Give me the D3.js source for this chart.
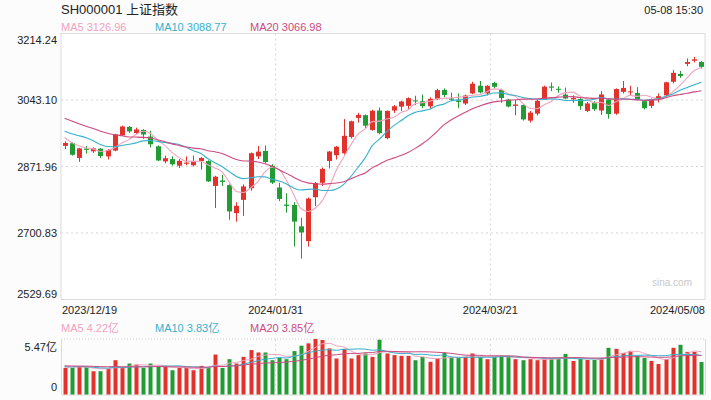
<!DOCTYPE html>
<html><head><meta charset="utf-8">
<script src="https://cdn.jsdelivr.net/npm/d3@7"></script>
<style>
body{margin:0;background:#fff}
svg{display:block}
text{font-family:"Liberation Sans",Arial,"Noto Sans CJK SC",sans-serif}
</style></head>
<body><svg id="c" width="711" height="400"></svg>
<script>
const dates = ["2023-12-19","2023-12-20","2023-12-21","2023-12-22","2023-12-25","2023-12-26","2023-12-27","2023-12-28","2023-12-29",
"2024-01-02","2024-01-03","2024-01-04","2024-01-05","2024-01-08","2024-01-09","2024-01-10","2024-01-11","2024-01-12","2024-01-15","2024-01-16","2024-01-17","2024-01-18","2024-01-19","2024-01-22","2024-01-23","2024-01-24","2024-01-25","2024-01-26","2024-01-29","2024-01-30","2024-01-31",
"2024-02-01","2024-02-02","2024-02-05","2024-02-06","2024-02-07","2024-02-08","2024-02-19","2024-02-20","2024-02-21","2024-02-22","2024-02-23","2024-02-26","2024-02-27","2024-02-28","2024-02-29",
"2024-03-01","2024-03-04","2024-03-05","2024-03-06","2024-03-07","2024-03-08","2024-03-11","2024-03-12","2024-03-13","2024-03-14","2024-03-15","2024-03-18","2024-03-19","2024-03-20","2024-03-21","2024-03-22","2024-03-25","2024-03-26","2024-03-27","2024-03-28","2024-03-29",
"2024-04-01","2024-04-02","2024-04-03","2024-04-08","2024-04-09","2024-04-10","2024-04-11","2024-04-12","2024-04-15","2024-04-16","2024-04-17","2024-04-18","2024-04-19","2024-04-22","2024-04-23","2024-04-24","2024-04-25","2024-04-26","2024-04-29","2024-04-30",
"2024-05-06","2024-05-07","2024-05-08"];

const opens = [2925,2932,2894,2918,2911,2918,2898,2913,2952,
2974,2958,2966,2949,2924,2885,2891,2874,2879,2875,2886,2886,2822,2836,2824,2752,2786,2816,2898,2912,2874,2818,
2774,2773,2718,2680,2793,2830,2886,2901,2906,2948,2997,3004,2966,3016,2945,
3016,3026,3028,3042,3040,3027,3045,3069,3047,3042,3034,3060,3080,3060,3087,3069,3044,3028,3030,2990,3008,
3046,3078,3072,3057,3045,3046,3015,3036,3016,3044,3008,3064,3063,3061,3040,3028,3045,3055,3090,3110,
3136,3144,3141];
const highs = [2937,2934,2920,2925,2921,2919,2917,2956,2977,
2976,2972,2968,2964,2926,2900,2898,2891,2898,2900,2896,2888,2848,2850,2826,2780,2826,2908,2925,2926,2878,2830,
2803,2780,2740,2792,2832,2869,2912,2925,2994,2990,3010,3006,3018,3024,3016,
3030,3041,3050,3054,3057,3050,3072,3073,3062,3060,3057,3090,3092,3081,3090,3072,3046,3043,3032,3015,3044,
3080,3088,3078,3075,3055,3048,3038,3040,3066,3046,3073,3092,3080,3076,3043,3047,3060,3090,3120,3118,
3150,3154,3143];
const lows = [2917,2900,2884,2905,2907,2894,2890,2911,2951,
2958,2955,2943,2921,2886,2880,2874,2868,2875,2872,2864,2832,2765,2822,2735,2730,2745,2810,2891,2880,2827,2783,
2753,2666,2635,2666,2770,2822,2867,2890,2903,2944,2985,2970,2964,2955,2942,
3010,3015,3020,3030,3022,3020,3043,3050,3040,3022,3030,3058,3060,3055,3073,3036,3024,3004,2990,2985,3003,
3044,3066,3062,3045,3036,3018,3012,3015,3005,2995,3005,3060,3055,3042,3019,3022,3037,3052,3086,3100,
3130,3140,3124];
const closes = [2932.39,2902.11,2918.71,2914.78,2918.81,2898.87,2914.61,2954.70,2974.93,
2962.28,2967.25,2954.35,2929.18,2887.54,2893.25,2877.70,2886.65,2881.98,2886.29,2893.99,2833.62,2845.78,2832.28,2756.34,2770.74,2820.77,2906.11,2910.22,2883.36,2830.53,2788.55,
2770.74,2730.15,2702.19,2789.49,2829.70,2865.90,2910.54,2922.73,2950.96,2988.36,3004.88,2977.02,3015.48,2957.85,3015.17,
3027.02,3039.31,3047.79,3039.93,3027.40,3046.02,3068.46,3055.94,3043.83,3038.23,3054.64,3084.93,3062.76,3079.69,3077.11,3048.03,3026.31,3031.48,2993.14,3010.66,3041.17,
3077.38,3074.96,3069.30,3047.05,3048.54,3027.33,3034.25,3019.47,3057.38,3007.07,3071.38,3074.22,3065.26,3044.60,3021.98,3044.82,3052.90,3088.64,3113.04,3104.82,
3140.72,3147.74,3128.48];
// volume in 亿
const volumes = [2.62,2.62,2.78,2.72,2.29,2.29,2.55,3.38,2.62,
3.05,2.95,2.62,3.05,2.82,2.72,2.39,2.62,2.62,2.39,2.82,2.62,3.94,2.62,3.48,3.05,3.71,4.38,4.14,4.14,3.38,3.61,
3.48,4.28,4.81,5.04,5.47,5.37,4.54,3.55,4.48,3.55,3.88,4.04,3.71,5.40,4.04,
3.88,3.81,3.81,3.38,3.71,3.22,3.55,4.11,3.61,3.61,3.71,4.04,3.71,3.48,3.71,3.81,3.81,3.48,3.38,3.48,3.38,
3.55,3.55,3.55,4.0,3.3,3.5,3.4,3.4,3.6,4.6,4.5,4.1,4.3,3.8,3.6,3.3,3.0,3.5,4.6,4.9,
4.2,4.2,3.2];
// the 19 sessions before the first candle, used only for the moving averages
const priorCloses = [3043.61,3061.86,3040.97,3031.70,3038.55,3021.69,3029.67,3031.64,3022.91,2972.30,2968.93,2966.21,2969.56,2991.44,2997.35,2968.76,2958.99,2942.56,2930.80];
const priorVolumes = [3.0,2.9,2.8,2.7,2.9,2.8,3.0,2.9,3.0,3.1,2.8,2.6,2.7,2.9,2.9,2.7,2.6,2.9,2.7];

const priceTicks = ["3214.24","3043.10","2871.96","2700.83","2529.69"];
const volTicks = ["5.47亿","0"];
const dateLabels = ["2023/12/19","2024/01/31","2024/03/21","2024/05/08"];
const dateLabelIdx = [0,30,60,89];
const maNames = ["MA5","MA10","MA20"];
const maPeriods = [5,10,20];
const maPriceText = ["3126.96","3088.77","3066.98"];
const maVolText = ["4.22亿","3.83亿","3.85亿"];
const title = "SH000001 上证指数";
const timeText = "05-08 15:30";

const maColors = ["#f0a3bd","#36b1cc","#cf4a80"];
const upColor = "#e2322b", downColor = "#239b35";

const svg = d3.select("#c");
svg.append("rect").attr("width",711).attr("height",400).attr("fill","#fcfcfd");

const L = 61, R = 705, T = 33.5, B = 299.5;
const VT = 339, VB = 394.5;

const x = d3.scaleBand().domain(dates).range([L,R]).paddingInner(0.3).paddingOuter(0.15);
const cx = d => x(d) + x.bandwidth()/2;
const y = d3.scaleLinear().domain([+priceTicks[4], +priceTicks[0]]).range([B,T]);
const yv = d3.scaleLinear().domain([0, parseFloat(volTicks[0])]).range([VB,VT]);

// main panel
svg.append("rect").attr("x",L).attr("y",T).attr("width",R-L).attr("height",B-T).attr("fill","#fff").attr("stroke","#dcdcdc");
const g = svg.append("g");
priceTicks.slice(1,4).forEach(t=>{
  g.append("line").attr("x1",L).attr("x2",R).attr("y1",y(+t)).attr("y2",y(+t)).attr("stroke","#d6d6d6").attr("stroke-dasharray","2,3");
});
[1,2].forEach(k=>{
  const xx = L + (R-L)*k/3;
  g.append("line").attr("x1",xx).attr("x2",xx).attr("y1",T).attr("y2",B).attr("stroke","#d6d6d6").attr("stroke-dasharray","2,3");
  svg.append("line").attr("x1",xx).attr("x2",xx).attr("y1",VT).attr("y2",VB).attr("stroke","#d6d6d6").attr("stroke-dasharray","2,3");
});

priceTicks.forEach((t,i)=>{
  let yy = y(+t)+4;
  if(i===0) yy = T+10.5;
  if(i===4) yy = B-2;
  svg.append("text").attr("x",57).attr("y",yy).attr("text-anchor","end").attr("font-size",11).attr("fill","#222").text(t);
});

svg.append("text").attr("x",672).attr("y",286).attr("text-anchor","middle").attr("font-size",10).attr("fill","#c8c8c8").text("sina.com");

// candles
const data = dates.map((d,i)=>({d,o:opens[i],h:highs[i],l:lows[i],c:closes[i],v:volumes[i]}));
const col = d => d.c >= d.o ? upColor : downColor;
const cg = svg.append("g");
cg.selectAll("line.w").data(data).join("line")
  .attr("x1",d=>Math.round(cx(d.d))+0.5).attr("x2",d=>Math.round(cx(d.d))+0.5)
  .attr("y1",d=>y(d.h)).attr("y2",d=>y(d.l)).attr("stroke",col).attr("stroke-width",1);
cg.selectAll("rect.b").data(data).join("rect")
  .attr("x",d=>Math.round(cx(d.d))+0.5-2.5).attr("width",5)
  .attr("y",d=>y(Math.max(d.o,d.c))).attr("height",d=>Math.max(1,Math.abs(y(d.o)-y(d.c))))
  .attr("fill",col);

function movAvg(prior, arr, n){
  const all = prior.concat(arr), off = prior.length;
  return arr.map((_,i)=>d3.mean(all.slice(off+i-n+1, off+i+1)));
}
maPeriods.forEach((n,k)=>{
  const m = movAvg(priorCloses, closes, n);
  const line = d3.line().x((v,i)=>cx(dates[i])).y(v=>y(v)).curve(d3.curveMonotoneX);
  svg.append("path").attr("d",line(m)).attr("fill","none").attr("stroke",maColors[k]).attr("stroke-width",1.1);
});

// header
svg.append("text").attr("x",61).attr("y",14).attr("font-size",13).attr("fill","#222").text(title);
svg.append("text").attr("x",703).attr("y",14).attr("text-anchor","end").attr("font-size",11).attr("fill","#222").text(timeText);
const legX = [61,155,250];
maNames.forEach((n,k)=>{
  svg.append("text").attr("x",legX[k]).attr("y",30.5).attr("font-size",11).attr("fill",maColors[k]).text(n+" "+maPriceText[k]);
  svg.append("text").attr("x",legX[k]).attr("y",332).attr("font-size",11).attr("fill",maColors[k]).text(n+" "+maVolText[k]);
});

// date labels
dateLabels.forEach((t,i)=>{
  const idx = dateLabelIdx[i];
  let xx, anchor;
  if(i===0){xx = L+1; anchor="start";}
  else if(i===dateLabels.length-1){xx = R; anchor="end";}
  else {xx = x(dates[idx]) - x.step()*x.paddingInner()/2; anchor="middle";}
  svg.append("text").attr("x",xx).attr("y",314).attr("text-anchor",anchor).attr("font-size",11).attr("fill","#222").text(t);
});

// volume panel
svg.append("line").attr("x1",L).attr("x2",R).attr("y1",VT).attr("y2",VT).attr("stroke","#cfcfcf").attr("stroke-dasharray","1,2");
svg.append("line").attr("x1",L+0.5).attr("x2",L+0.5).attr("y1",VT).attr("y2",VB).attr("stroke","#dcdcdc");
svg.append("line").attr("x1",R+0.5).attr("x2",R+0.5).attr("y1",VT).attr("y2",VB).attr("stroke","#dcdcdc");
svg.append("line").attr("x1",L).attr("x2",R).attr("y1",VB+0.5).attr("y2",VB+0.5).attr("stroke","#dcdcdc");
svg.append("text").attr("x",57).attr("y",351).attr("text-anchor","end").attr("font-size",11).attr("fill","#222").text(volTicks[0]);
svg.append("text").attr("x",57).attr("y",391).attr("text-anchor","end").attr("font-size",11).attr("fill","#222").text(volTicks[1]);

svg.append("g").selectAll("rect").data(data).join("rect")
  .attr("x",d=>Math.round(cx(d.d))+0.5-2).attr("width",4)
  .attr("y",d=>yv(d.v)).attr("height",d=>VB-yv(d.v)).attr("fill",col);

maPeriods.forEach((n,k)=>{
  const m = movAvg(priorVolumes, volumes, n);
  const line = d3.line().x((v,i)=>cx(dates[i])).y(v=>yv(v)).curve(d3.curveMonotoneX);
  svg.append("path").attr("d",line(m)).attr("fill","none").attr("stroke",maColors[k]).attr("stroke-width",1);
});
</script></body></html>
